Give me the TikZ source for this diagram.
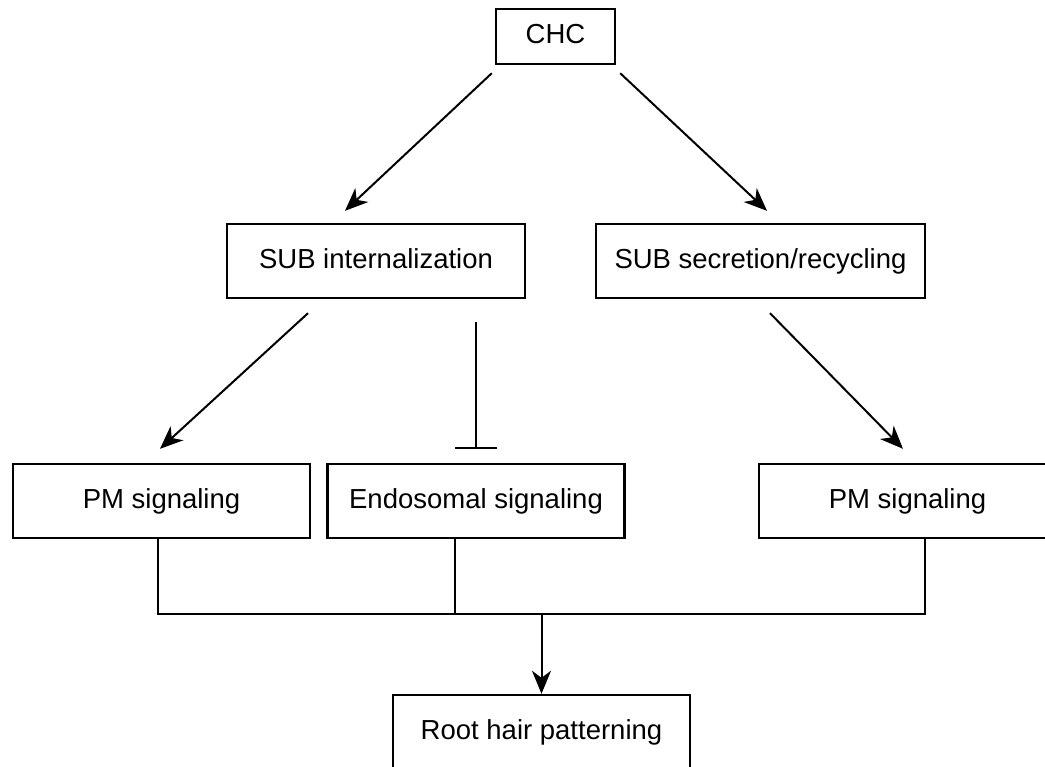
\documentclass[tikz,border=0pt]{standalone}
\usepackage{fontspec}
\setmainfont{Liberation Sans}
\usetikzlibrary{arrows.meta,positioning,calc}

\begin{document}
\begin{tikzpicture}[x=1pt,y=-1pt,line width=2pt]
    \tikzstyle{box}=[draw,rectangle,line width=2.4pt,minimum height=74pt,inner sep=0pt,text height=20pt,text depth=5pt,font=\fontsize{27.5pt}{33pt}\selectfont]
    \tikzstyle{act}=[-{Stealth[length=23pt,width=19pt,inset=7pt]}]
    \tikzstyle{inh}=[-{Bar[width=42pt]}]
    \tikzstyle{link}=[-]

    \useasboundingbox (0,0) rectangle (1045,767);

    % Draw the top node
    \node[box,minimum width=119pt,minimum height=55pt] (CHC) at (555.5,36.5) {CHC};

    % Draw the SUB trafficking nodes
    \node[box,minimum width=298pt] (SUB-int) at (376,261) {SUB internalization};
    \node[box,minimum width=329pt] (SUB-sec) at (760.5,261) {SUB secretion/recycling};

    % Draw the signaling nodes
    \foreach \name / \x / \txt in {PM-l/161.5/PM signaling, Endo/476/Endosomal signaling, PM-r/907.5/PM signaling}
        \node[box,minimum width=297pt] (\name) at (\x,501) {\txt};

    % Draw the output node
    \node[box,minimum width=297pt] (Root) at (541.5,732) {Root hair patterning};

    % Connect CHC with both trafficking routes
    \draw[act] ($(CHC.south west)+(-3,8)$) -- ($(SUB-int.north)+(-31,-12)$);
    \draw[act] ($(CHC.south east)+(4,8)$) -- ($(SUB-sec.north)+(6.5,-12)$);

    % Connect the trafficking routes with signaling
    \draw[act] ($(SUB-int.south)+(-68,14)$) -- ($(PM-l.north)+(-1.5,-14)$);
    \draw[inh] ($(Endo.north)+(0,-141)$) -- ($(Endo.north)+(0,-14)$);
    \draw[act] ($(SUB-sec.south)+(9.5,14)$) -- ($(PM-r.north)+(-4.5,-14)$);

    % Merge every signaling node into the output node
    \coordinate (merge) at (541.5,614);
    \foreach \source / \dx in {PM-l/-3.5, Endo/-21, PM-r/17.5}
        \draw[link] ([xshift=\dx pt]\source.south) |- (merge);
    \draw[act] (merge) -- (Root);
\end{tikzpicture}
\end{document}
